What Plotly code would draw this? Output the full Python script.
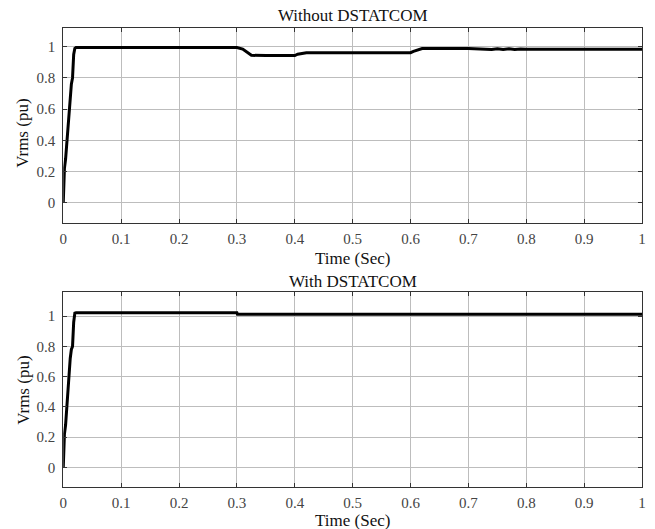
import plotly.graph_objects as go

# Top: Without DSTATCOM
t_without = [0, 0.001, 0.002, 0.004, 0.006, 0.008, 0.010, 0.012, 0.014, 0.016, 0.018, 0.020, 0.022,
             0.10, 0.20, 0.25, 0.30, 0.31, 0.32, 0.325, 0.35, 0.40, 0.405, 0.42, 0.50, 0.60, 0.605,
             0.615, 0.62, 0.70, 0.73, 0.74, 0.75, 0.76, 0.77, 0.78, 0.79, 0.80, 0.90, 1.0]
v_without = [0, 0.12, 0.22, 0.28, 0.38, 0.50, 0.62, 0.70, 0.76, 0.80, 0.95, 0.99, 0.995,
             0.995, 0.995, 0.993, 0.995, 0.985, 0.955, 0.945, 0.943, 0.943, 0.952, 0.962, 0.962, 0.962, 0.97,
             0.98, 0.988, 0.988, 0.986, 0.982, 0.987, 0.982, 0.987, 0.982, 0.986, 0.984, 0.984, 0.984]

# Bottom: With DSTATCOM
t_with = [0, 0.001, 0.002, 0.004, 0.006, 0.008, 0.010, 0.012, 0.014, 0.016, 0.018, 0.020, 0.022,
          0.10, 0.20, 0.30, 0.301, 0.40, 0.50, 0.60, 0.70, 0.80, 0.90, 1.0]
v_with = [0, 0.12, 0.22, 0.28, 0.40, 0.52, 0.62, 0.72, 0.78, 0.80, 0.96, 1.02, 1.022,
          1.022, 1.022, 1.022, 1.012, 1.012, 1.012, 1.012, 1.012, 1.012, 1.012, 1.012]

x_ticks = [0, 0.1, 0.2, 0.3, 0.4, 0.5, 0.6, 0.7, 0.8, 0.9, 1]
x_tick_labels = ["0", "0.1", "0.2", "0.3", "0.4", "0.5", "0.6", "0.7", "0.8", "0.9", "1"]
y_ticks = [0, 0.2, 0.4, 0.6, 0.8, 1]
y_tick_labels = ["0", "0.2", "0.4", "0.6", "0.8", "1"]

FONT = "Liberation Serif, Times New Roman, serif"
W, H = 655, 529

fig = go.Figure()
fig.add_trace(go.Scatter(x=t_without, y=v_without, mode="lines",
                         line=dict(color="black", width=3), xaxis="x", yaxis="y", showlegend=False))
fig.add_trace(go.Scatter(x=t_with, y=v_with, mode="lines",
                         line=dict(color="black", width=3), xaxis="x2", yaxis="y2", showlegend=False))

xd = [60 / W, 646 / W]
base = dict(showline=True, linecolor="#333", linewidth=1, mirror="ticks",
            ticks="inside", ticklen=4, tickcolor="#333",
            showgrid=True, gridcolor="#bdbdbd", gridwidth=1, zeroline=False,
            tickfont=dict(family=FONT, size=15, color="#444"))
xcommon = dict(base, ticklabelstandoff=2)
ycommon = dict(base, ticklabelstandoff=4)

fig.update_layout(
    width=W, height=H,
    margin=dict(l=0, r=0, t=0, b=0),
    font=dict(family=FONT, size=15, color="#333"),
    paper_bgcolor="white", plot_bgcolor="white",
    xaxis=dict(domain=xd, anchor="y", range=[0, 1], tickvals=x_ticks, ticktext=x_tick_labels, **xcommon),
    yaxis=dict(domain=[1 - 223 / H, 1 - 28 / H], anchor="x", range=[-0.13, 1.12],
               tickvals=y_ticks, ticktext=y_tick_labels, **ycommon),
    xaxis2=dict(domain=xd, anchor="y2", range=[0, 1], tickvals=x_ticks, ticktext=x_tick_labels, **xcommon),
    yaxis2=dict(domain=[1 - 487 / H, 1 - 292 / H], anchor="x2", range=[-0.13, 1.16],
                tickvals=y_ticks, ticktext=y_tick_labels, **ycommon),
)

cx = (xd[0] + xd[1]) / 2
anns = [
    ("Without DSTATCOM", cx, 1 - 16 / H, 0),
    ("Time (Sec)", cx, 1 - 258 / H, 0),
    ("With DSTATCOM", cx, 1 - 281 / H, 0),
    ("Time (Sec)", cx, 1 - 520 / H, 0),
    ("Vrms (pu)", 19 / W, 1 - 133 / H, -90),
    ("Vrms (pu)", 19 / W, 1 - 390 / H, -90),
]
for text, x, y, ang in anns:
    fig.add_annotation(text=text, x=x, y=y, xref="paper", yref="paper", showarrow=False,
                       xanchor="center", yanchor="middle", textangle=ang,
                       font=dict(family=FONT, size=17, color="#111"))

fig.write_html("out.html")
